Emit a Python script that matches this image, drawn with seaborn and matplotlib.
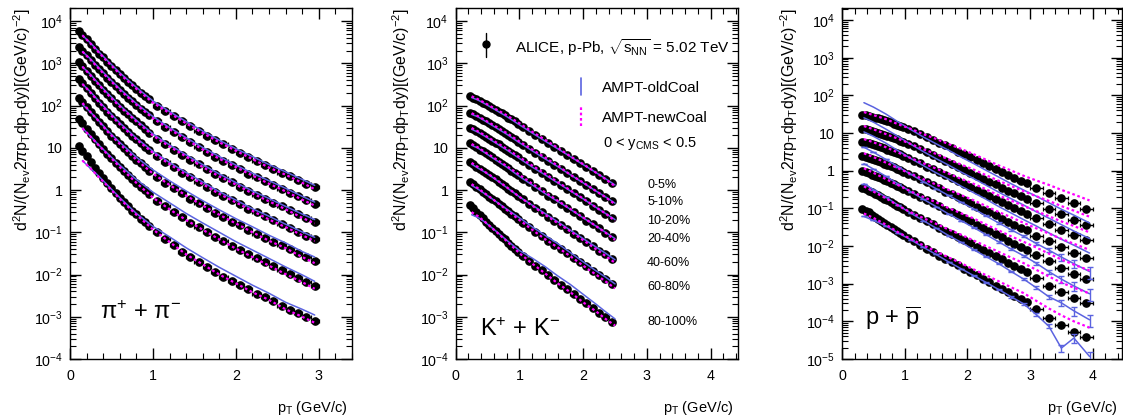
import numpy as np
import pandas as pd
import matplotlib
matplotlib.use("Agg")
import matplotlib.pyplot as plt
import seaborn as sns
from matplotlib.ticker import (LogLocator, MultipleLocator, NullFormatter,
                               FuncFormatter)

# ----------------------------------------------------------------- data
centralities = ["0-5%", "5-10%", "10-20%", "20-40%", "40-60%", "60-80%", "80-100%"]

# ---- pions
pion_pt = [0.11, 0.15, 0.20, 0.25, 0.30, 0.35, 0.40, 0.45, 0.50, 0.55, 0.60, 0.65,
           0.70, 0.75, 0.80, 0.85, 0.90, 0.95, 1.05, 1.15, 1.25, 1.35, 1.45, 1.55,
           1.65, 1.75, 1.85, 1.95, 2.05, 2.15, 2.25, 2.35, 2.45, 2.55, 2.65, 2.75,
           2.85, 2.95]
pion_halfbin = [0.01] + [0.025] * 17 + [0.05] * 20
pion_0_5 = [5900, 4800, 3700, 2900, 2200, 1700, 1400, 1100, 870, 690, 560, 460, 370, 300,
            250, 200, 170, 140, 100, 74, 56, 43, 32, 25, 19.5, 15.1, 12.0, 9.5, 7.6, 6.0,
            4.9, 4.0, 3.2, 2.6, 2.1, 1.74, 1.41, 1.15]
pion_5_10 = [2450, 2000, 1550, 1200, 930, 720, 580, 460, 360, 290, 230, 190, 155, 126, 105,
             85, 71, 59, 42, 31, 23.4, 17.8, 13.5, 10.2, 7.9, 6.2, 4.9, 3.9, 3.1, 2.45, 2.0,
             1.62, 1.32, 1.07, 0.87, 0.71, 0.58, 0.47]
pion_10_20 = [1070, 870, 660, 510, 390, 300, 240, 186, 148, 117, 95, 76, 62, 50, 42, 34, 28,
              23, 16.2, 12.0, 9.1, 6.9, 5.2, 4.1, 3.1, 2.4, 1.9, 1.51, 1.20, 0.95, 0.78,
              0.63, 0.50, 0.41, 0.33, 0.27, 0.22, 0.178]
pion_20_40 = [417, 339, 257, 200, 151, 117, 91, 72, 58, 45, 36, 29.5, 24, 19.1, 15.8, 12.9,
              10.7, 8.9, 6.3, 4.6, 3.5, 2.6, 2.0, 1.55, 1.20, 0.91, 0.72, 0.58, 0.46, 0.36,
              0.295, 0.24, 0.195, 0.155, 0.126, 0.102, 0.083, 0.068]
pion_40_60 = [151, 120, 91, 69, 54, 41, 32, 24.5, 19.5, 15.1, 12.3, 9.8, 7.9, 6.3, 5.2, 4.3,
              3.5, 2.9, 2.0, 1.48, 1.12, 0.85, 0.63, 0.49, 0.38, 0.29, 0.23, 0.18, 0.145,
              0.115, 0.091, 0.074, 0.060, 0.049, 0.040, 0.032, 0.026, 0.021]
pion_60_80 = [48, 38, 28, 21.4, 16.2, 12.0, 9.3, 7.2, 5.6, 4.4, 3.5, 2.8, 2.24, 1.78, 1.48,
              1.17, 0.98, 0.79, 0.56, 0.41, 0.30, 0.23, 0.17, 0.132, 0.102, 0.078, 0.062,
              0.048, 0.038, 0.030, 0.024, 0.0195, 0.0158, 0.0126, 0.0102, 0.0083, 0.0066,
              0.0054]
pion_80_100 = [11.2, 8.5, 6.3, 4.6, 3.4, 2.5, 1.9, 1.45, 1.10, 0.85, 0.66, 0.52, 0.42, 0.32,
               0.27, 0.21, 0.174, 0.141, 0.100, 0.071, 0.050, 0.035, 0.026, 0.020, 0.015,
               0.0115, 0.0089, 0.0071, 0.0056, 0.0045, 0.0035, 0.0029, 0.0023, 0.0018,
               0.00148, 0.0012, 0.0010, 0.00081]

pion_model_pt = [0.15, 0.25, 0.35, 0.45, 0.6, 0.8, 1.0, 1.2, 1.4, 1.6, 1.8, 2.0, 2.2, 2.4,
                 2.6, 2.8, 2.95]
pion_old_0_5 = [4600, 3000, 1860, 1170, 600, 270, 129, 72, 42, 25, 15.1, 9.5, 6.2, 4.0, 2.7, 1.78, 1.29]
pion_old_5_10 = [1900, 1260, 780, 490, 250, 112, 55, 30, 17.4, 10.2, 6.2, 3.9, 2.5, 1.66, 1.10, 0.71, 0.52]
pion_old_10_20 = [830, 540, 320, 200, 102, 45, 21.4, 11.7, 6.8, 4.0, 2.4, 1.51, 0.95, 0.63, 0.41, 0.27, 0.20]
pion_old_20_40 = [324, 209, 126, 78, 39, 17.0, 8.3, 4.5, 2.6, 1.55, 0.91, 0.58, 0.36, 0.24, 0.155, 0.102, 0.076]
pion_old_40_60 = [107, 69, 43, 26, 13.5, 6.0, 3.0, 1.66, 0.95, 0.56, 0.34, 0.21, 0.135, 0.085, 0.056, 0.035, 0.026]
pion_old_60_80 = [29, 18.6, 11.5, 7.4, 3.9, 1.78, 0.89, 0.50, 0.28, 0.166, 0.100, 0.060, 0.038, 0.024, 0.0151, 0.0098, 0.0069]
pion_old_80_100 = [5.0, 3.2, 2.1, 1.32, 0.66, 0.28, 0.138, 0.078, 0.043, 0.025, 0.0148, 0.0091, 0.0056, 0.0036, 0.0022, 0.0015, 0.0011]
pion_new_0_5 = [4600, 2900, 1780, 1100, 560, 250, 117, 66, 38, 22.4, 13.5, 8.5, 5.4, 3.4, 2.3, 1.48, 1.05]
pion_new_5_10 = [1900, 1200, 740, 460, 234, 105, 50, 27.5, 15.8, 9.1, 5.5, 3.5, 2.2, 1.41, 0.93, 0.59, 0.43]
pion_new_10_20 = [830, 510, 310, 186, 95, 42, 19.5, 10.7, 6.2, 3.5, 2.1, 1.35, 0.83, 0.54, 0.35, 0.22, 0.162]
pion_new_20_40 = [324, 200, 120, 72, 36, 15.8, 7.6, 4.1, 2.3, 1.38, 0.81, 0.51, 0.32, 0.20, 0.132, 0.085, 0.062]
pion_new_40_60 = [115, 69, 42, 24.5, 12.3, 5.2, 2.45, 1.32, 0.74, 0.43, 0.26, 0.162, 0.100, 0.063, 0.042, 0.026, 0.0186]
pion_new_60_80 = [29, 18.2, 11.2, 7.1, 3.5, 1.48, 0.66, 0.35, 0.195, 0.115, 0.068, 0.041, 0.026, 0.0162, 0.0102, 0.0066, 0.0046]
pion_new_80_100 = [5.0, 3.2, 2.0, 1.26, 0.62, 0.26, 0.117, 0.059, 0.030, 0.0174, 0.0100, 0.0062, 0.0038, 0.0025, 0.0015, 0.0010, 0.00072]

# ---- kaons
kaon_pt = [0.225, 0.275, 0.325, 0.375, 0.425, 0.475, 0.525, 0.575, 0.625, 0.675, 0.725,
           0.775, 0.825, 0.875, 0.925, 0.975, 1.05, 1.15, 1.25, 1.35, 1.45, 1.55, 1.65,
           1.75, 1.85, 1.95, 2.05, 2.15, 2.25, 2.35, 2.45]
kaon_halfbin = [0.025] * 16 + [0.05] * 15
kaon_0_5 = [170, 155, 141, 129, 117, 107, 98, 89, 79, 72, 65, 59, 52, 47, 42, 37, 31, 25, 20,
            16.2, 12.9, 10.5, 8.3, 6.8, 5.4, 4.4, 3.5, 2.8, 2.24, 1.82, 1.45]
kaon_5_10 = [68, 62, 56, 51, 46, 42, 38, 35, 31, 28, 25, 22.4, 20, 17.8, 15.8, 14.1, 11.7, 9.5,
             7.6, 6.2, 4.9, 4.0, 3.2, 2.5, 2.0, 1.62, 1.29, 1.05, 0.83, 0.68, 0.54]
kaon_10_20 = [30, 27.5, 24.5, 22.4, 20, 18.2, 16.6, 14.8, 13.2, 12.0, 10.7, 9.5, 8.5, 7.6, 6.8,
              6.0, 4.9, 4.0, 3.2, 2.6, 2.0, 1.62, 1.29, 1.05, 0.83, 0.68, 0.54, 0.43, 0.34,
              0.275, 0.22]
kaon_20_40 = [12.9, 11.5, 10.2, 9.1, 8.3, 7.4, 6.6, 5.9, 5.2, 4.7, 4.2, 3.7, 3.3, 2.9, 2.6,
              2.3, 1.86, 1.51, 1.17, 0.95, 0.74, 0.60, 0.47, 0.38, 0.30, 0.24, 0.19, 0.155,
              0.123, 0.098, 0.078]
kaon_40_60 = [4.7, 4.2, 3.6, 3.2, 2.9, 2.6, 2.24, 2.0, 1.78, 1.58, 1.38, 1.23, 1.07, 0.95,
              0.83, 0.72, 0.60, 0.48, 0.37, 0.30, 0.234, 0.186, 0.148, 0.117, 0.093, 0.074,
              0.059, 0.047, 0.037, 0.030, 0.0234]
kaon_60_80 = [1.58, 1.38, 1.20, 1.05, 0.91, 0.79, 0.69, 0.62, 0.54, 0.47, 0.41, 0.36, 0.32,
              0.275, 0.24, 0.21, 0.17, 0.132, 0.102, 0.081, 0.063, 0.051, 0.040, 0.032, 0.025,
              0.0195, 0.0155, 0.0123, 0.0095, 0.0078, 0.006]
kaon_80_100 = [0.45, 0.37, 0.31, 0.25, 0.214, 0.178, 0.151, 0.129, 0.107, 0.091, 0.078,
               0.068, 0.056, 0.048, 0.041, 0.035, 0.028, 0.0214, 0.0162, 0.0126, 0.0095,
               0.0074, 0.0056, 0.0045, 0.0034, 0.0027, 0.0021, 0.00162, 0.00126, 0.00098,
               0.00076]

kaon_model_pt = [0.25, 0.35, 0.45, 0.6, 0.8, 1.0, 1.2, 1.4, 1.6, 1.8, 2.0, 2.2, 2.35, 2.5]
kaon_old_0_5 = [155, 135, 112, 83, 55, 35, 22.4, 14.5, 9.5, 6.2, 4.0, 2.6, 1.86, 1.32]
kaon_old_5_10 = [62, 54, 44, 32, 21, 13.2, 8.5, 5.5, 3.6, 2.3, 1.48, 0.95, 0.69, 0.49]
kaon_old_10_20 = [27.5, 23.4, 19.1, 13.8, 8.9, 5.6, 3.5, 2.3, 1.48, 0.95, 0.62, 0.39, 0.28, 0.20]
kaon_old_20_40 = [11.5, 9.8, 7.8, 5.5, 3.5, 2.1, 1.32, 0.83, 0.54, 0.35, 0.22, 0.141, 0.100, 0.071]
kaon_old_40_60 = [4.1, 3.3, 2.7, 1.9, 1.15, 0.69, 0.44, 0.28, 0.178, 0.112, 0.071, 0.045, 0.032, 0.0224]
kaon_old_60_80 = [1.29, 1.05, 0.83, 0.58, 0.355, 0.22, 0.135, 0.085, 0.054, 0.033, 0.020, 0.0123, 0.0087, 0.006]
kaon_old_80_100 = [0.26, 0.224, 0.178, 0.117, 0.065, 0.037, 0.0245, 0.0155, 0.0093, 0.0058, 0.0034, 0.0020, 0.00132, 0.00089]
kaon_new_0_5 = [166, 141, 117, 87, 59, 38, 24, 15.5, 10.0, 6.3, 4.1, 2.6, 1.82, 1.23]
kaon_new_5_10 = [66, 56, 46, 34, 22.4, 14.1, 9.1, 5.9, 3.8, 2.3, 1.51, 0.95, 0.68, 0.46]
kaon_new_10_20 = [29.5, 24.5, 20, 14.5, 9.5, 6.0, 3.8, 2.45, 1.55, 0.98, 0.63, 0.39, 0.28, 0.186]
kaon_new_20_40 = [12.3, 10.2, 8.1, 5.8, 3.7, 2.3, 1.41, 0.89, 0.56, 0.355, 0.224, 0.141, 0.098, 0.066]
kaon_new_40_60 = [4.4, 3.5, 2.75, 1.95, 1.17, 0.69, 0.43, 0.26, 0.166, 0.105, 0.065, 0.040, 0.0275, 0.019]
kaon_new_60_80 = [1.38, 1.10, 0.85, 0.58, 0.34, 0.195, 0.115, 0.069, 0.044, 0.027, 0.0162, 0.0100, 0.0069, 0.0047]
kaon_new_80_100 = [0.30, 0.24, 0.182, 0.115, 0.062, 0.032, 0.0182, 0.0107, 0.0062, 0.0038, 0.0022, 0.00135, 0.00089, 0.00062]

# ---- protons
proton_pt = [0.325, 0.375, 0.425, 0.475, 0.525, 0.575, 0.625, 0.675, 0.725, 0.775, 0.825,
             0.875, 0.925, 0.975, 1.05, 1.15, 1.25, 1.35, 1.45, 1.55, 1.65, 1.75, 1.85,
             1.95, 2.05, 2.15, 2.25, 2.35, 2.45, 2.55, 2.65, 2.75, 2.85, 2.95, 3.1, 3.3,
             3.5, 3.7, 3.9]
proton_halfbin = [0.025] * 14 + [0.05] * 20 + [0.1] * 5
proton_0_5 = [30, 29.5, 28.2, 26.9, 25.7, 24.5, 22.9, 21.9, 20.4, 19.1, 17.8, 16.6, 15.5,
              14.5, 12.9, 11.0, 9.3, 7.8, 6.6, 5.6, 4.7, 3.9, 3.2, 2.75, 2.3, 1.9, 1.58,
              1.32, 1.10, 0.91, 0.76, 0.65, 0.54, 0.46, 0.355, 0.257, 0.186, 0.135, 0.098]
proton_5_10 = [12.9, 12.6, 11.7, 11.2, 10.7, 10.2, 9.5, 8.9, 8.3, 7.8, 7.2, 6.8, 6.3, 5.9,
               5.1, 4.4, 3.7, 3.1, 2.6, 2.24, 1.86, 1.55, 1.26, 1.07, 0.89, 0.74, 0.62, 0.51,
               0.43, 0.355, 0.295, 0.25, 0.21, 0.178, 0.135, 0.098, 0.069, 0.050, 0.036]
proton_10_20 = [5.9, 5.6, 5.4, 5.0, 4.8, 4.5, 4.2, 4.0, 3.6, 3.4, 3.2, 2.9, 2.7, 2.5, 2.2,
                1.86, 1.58, 1.29, 1.10, 0.93, 0.78, 0.63, 0.52, 0.45, 0.37, 0.31, 0.257,
                0.214, 0.174, 0.145, 0.12, 0.102, 0.085, 0.071, 0.055, 0.038, 0.027, 0.0195,
                0.0141]
proton_20_40 = [2.45, 2.3, 2.2, 2.0, 1.95, 1.82, 1.66, 1.55, 1.45, 1.32, 1.23, 1.12, 1.02,
                0.95, 0.83, 0.71, 0.59, 0.49, 0.41, 0.35, 0.28, 0.234, 0.195, 0.166, 0.138,
                0.112, 0.093, 0.078, 0.065, 0.052, 0.044, 0.037, 0.030, 0.026, 0.019, 0.0132,
                0.0093, 0.0066, 0.0048]
proton_40_60 = [1.0, 0.93, 0.87, 0.79, 0.74, 0.68, 0.63, 0.575, 0.525, 0.48, 0.44, 0.40,
                0.36, 0.33, 0.29, 0.24, 0.20, 0.166, 0.138, 0.115, 0.093, 0.078, 0.065,
                0.054, 0.045, 0.036, 0.030, 0.025, 0.0204, 0.017, 0.0138, 0.0115, 0.0095,
                0.0079, 0.0059, 0.0039, 0.0026, 0.00186, 0.00135]
proton_60_80 = [0.355, 0.33, 0.295, 0.27, 0.245, 0.22, 0.20, 0.182, 0.162, 0.145, 0.132,
                0.117, 0.107, 0.098, 0.081, 0.068, 0.055, 0.046, 0.038, 0.031, 0.025, 0.021,
                0.0174, 0.0145, 0.0117, 0.0095, 0.0079, 0.0065, 0.0054, 0.0044, 0.0035,
                0.0030, 0.0024, 0.0020, 0.00141, 0.00089, 0.00059, 0.00041, 0.0003]
proton_80_100 = [0.098, 0.087, 0.078, 0.068, 0.060, 0.052, 0.047, 0.041, 0.036, 0.032,
                 0.028, 0.0245, 0.022, 0.0195, 0.0162, 0.0132, 0.0105, 0.0085, 0.0069,
                 0.0056, 0.0046, 0.0037, 0.0031, 0.0025, 0.002, 0.00166, 0.00135, 0.0011,
                 0.00089, 0.00072, 0.00059, 0.00048, 0.00039, 0.00032, 0.00021, 0.000126,
                 7.9e-5, 5.2e-5, 3.8e-5]

proton_model_pt = [0.35, 0.5, 0.7, 0.9, 1.1, 1.3, 1.5, 1.7, 1.9, 2.1, 2.3, 2.5, 2.7, 2.9,
                   3.1, 3.3, 3.5, 3.7, 3.95]
proton_old_0_5 = [64, 49, 32, 19.5, 12.3, 7.8, 5.2, 3.5, 2.3, 1.55, 1.02, 0.68, 0.45, 0.305, 0.21, 0.141, 0.095, 0.066, 0.041]
proton_old_5_10 = [25.4, 19.5, 12.7, 8.0, 5.0, 3.2, 2.1, 1.41, 0.92, 0.62, 0.41, 0.27, 0.18, 0.122, 0.081, 0.055, 0.037, 0.025, 0.0158]
proton_old_10_20 = [10.7, 8.2, 5.4, 3.35, 2.1, 1.36, 0.88, 0.60, 0.39, 0.26, 0.174, 0.112, 0.075, 0.050, 0.034, 0.0224, 0.0151, 0.0105, 0.0065]
proton_old_20_40 = [4.2, 3.1, 2.0, 1.26, 0.80, 0.51, 0.335, 0.22, 0.146, 0.097, 0.063, 0.041, 0.027, 0.018, 0.0117, 0.0078, 0.0051, 0.0034, 0.0021]
proton_old_40_60 = [1.53, 1.11, 0.71, 0.44, 0.275, 0.174, 0.112, 0.071, 0.047, 0.031, 0.020, 0.0129, 0.0083, 0.0055, 0.0035, 0.0021, 0.00132, 0.00087, 0.00054]
proton_old_60_80 = [0.45, 0.316, 0.20, 0.12, 0.074, 0.047, 0.030, 0.019, 0.0126, 0.008, 0.0052, 0.0034, 0.0021, 0.00132, 0.00078, 0.00045, 0.00031, 0.00019, 0.00011]
proton_old_80_100 = [0.061, 0.048, 0.034, 0.022, 0.0146, 0.0092, 0.006, 0.0038, 0.0025, 0.00164, 0.00108, 0.0007, 0.00045, 0.00029, 0.000151, 7.4e-5, 1.95e-5, 3.6e-5, 1.17e-5]
proton_old_relerr = [0, 0, 0, 0, 0, 0, 0, 0, 0, 0.02, 0.03, 0.04, 0.05, 0.06, 0.08, 0.12, 0.2, 0.25, 0.35]
proton_new_0_5 = [36, 30, 23.4, 17.0, 12.9, 9.3, 7.0, 5.1, 3.8, 2.75, 1.95, 1.38, 1.01, 0.73, 0.55, 0.42, 0.31, 0.234, 0.162]
proton_new_5_10 = [15.3, 12.6, 9.4, 7.0, 5.1, 3.7, 2.8, 2.0, 1.46, 1.07, 0.76, 0.54, 0.39, 0.285, 0.21, 0.158, 0.115, 0.087, 0.060]
proton_new_10_20 = [6.9, 5.7, 4.2, 3.0, 2.15, 1.57, 1.14, 0.84, 0.61, 0.45, 0.32, 0.22, 0.16, 0.115, 0.085, 0.062, 0.045, 0.034, 0.023]
proton_new_20_40 = [2.9, 2.3, 1.64, 1.15, 0.82, 0.59, 0.43, 0.31, 0.226, 0.164, 0.115, 0.080, 0.058, 0.041, 0.0295, 0.0214, 0.0155, 0.0115, 0.0079]
proton_new_40_60 = [1.16, 0.88, 0.60, 0.41, 0.28, 0.20, 0.145, 0.102, 0.074, 0.054, 0.037, 0.026, 0.018, 0.0129, 0.0091, 0.0063, 0.0044, 0.0032, 0.00224]
proton_new_60_80 = [0.385, 0.28, 0.186, 0.117, 0.078, 0.055, 0.039, 0.0275, 0.020, 0.014, 0.0099, 0.007, 0.0049, 0.0035, 0.00234, 0.00155, 0.00107, 0.00078, 0.00055]
proton_new_80_100 = [0.073, 0.056, 0.037, 0.023, 0.0153, 0.0104, 0.0072, 0.005, 0.0035, 0.0024, 0.00168, 0.00116, 0.0008, 0.00056, 0.00035, 0.00022, 0.000145, 0.0001, 6.8e-5]

# ----------------------------------------------------------------- style
BLUE = "#5b63e0"
MAGENTA = "#ff00ff"

sns.set_theme(style="ticks", rc={
    "axes.edgecolor": "black", "xtick.color": "black", "ytick.color": "black",
    "text.color": "black", "axes.labelcolor": "black",
})
plt.rcParams["font.family"] = ["Liberation Sans", "DejaVu Sans"]
plt.rcParams["mathtext.fontset"] = "custom"
plt.rcParams["mathtext.rm"] = "Liberation Sans"
plt.rcParams["mathtext.it"] = "Liberation Sans:italic"
plt.rcParams["mathtext.bf"] = "Liberation Sans:bold"
plt.rcParams["mathtext.sf"] = "Liberation Sans"

W, H = 1123, 419
fig = plt.figure(figsize=(W / 100, H / 100), dpi=100)


def px_axes(left, right, top, bottom):
    return fig.add_axes([left / W, 1 - bottom / H, (right - left) / W, (bottom - top) / H])


def log_label(v, pos):
    e = int(round(np.log10(v)))
    if e == 0:
        return "1"
    if e == 1:
        return "10"
    return r"$10^{%d}$" % e


YLABEL = (r"d$^{2}$N/(N$_{\mathrm{ev}}$2$\pi$p$_{\mathrm{T}}$dp$_{\mathrm{T}}$dy)"
          r"[(GeV/c)$^{-2}$]")
XLABEL = r"p$_{\mathrm{T}}$ (GeV/c)"


def style_axes(ax, xmax, ymin, ymax, ylab_x):
    ax.set_yscale("log")
    ax.set_xlim(0, xmax)
    ax.set_ylim(ymin, ymax)
    ax.xaxis.set_major_locator(MultipleLocator(1))
    ax.xaxis.set_minor_locator(MultipleLocator(0.2))
    ax.yaxis.set_major_locator(LogLocator(base=10, numticks=30))
    ax.yaxis.set_minor_locator(LogLocator(base=10, subs=np.arange(2, 10), numticks=300))
    ax.yaxis.set_minor_formatter(NullFormatter())
    ax.yaxis.set_major_formatter(FuncFormatter(log_label))
    ax.tick_params(which="both", direction="in", top=True, right=True, labelsize=10.3)
    ax.tick_params(which="major", length=8, width=1.0)
    ax.tick_params(which="minor", length=4, width=0.8)
    ax.tick_params(axis="x", pad=7)
    ax.tick_params(axis="y", pad=5)
    for s in ax.spines.values():
        s.set_linewidth(1.0)
        s.set_color("black")
    ax.set_ylabel(YLABEL, fontsize=11.5, loc="top")
    ax.yaxis.set_label_coords(ylab_x, 1.0)
    ax.set_xlabel(XLABEL, fontsize=10.5, loc="right")
    ax.xaxis.set_label_coords(0.985, -0.115)


def draw_panel(ax, pt, halfbin, data, mpt, old, new, old_relerr=None):
    for y in data:
        ax.errorbar(pt, y, xerr=halfbin, fmt="o", ms=5.2, color="black", mec="black",
                    elinewidth=1.0, capsize=1.2, capthick=0.9, zorder=3)
    for i, y in enumerate(old):
        df = pd.DataFrame({"pt": mpt, "val": y})
        sns.lineplot(data=df, x="pt", y="val", ax=ax, color=BLUE, lw=1.1,
                     estimator=None, sort=False, zorder=4)
        if old_relerr is not None and i >= 3:
            yerr = np.array(y) * np.array(old_relerr)
            ax.errorbar(mpt, y, yerr=yerr, fmt="none", ecolor=BLUE, elinewidth=1.0,
                        capsize=2.0, capthick=1.0, zorder=4)
    for y in new:
        df = pd.DataFrame({"pt": mpt, "val": y})
        sns.lineplot(data=df, x="pt", y="val", ax=ax, color=MAGENTA, lw=1.6,
                     linestyle=(0, (1.2, 1.2)), estimator=None, sort=False, zorder=5)


# ---------------------------------------------------------------- panels
ax1 = px_axes(70, 352, 8, 359)
ax2 = px_axes(455.7, 738, 8, 359)
ax3 = px_axes(842, 1121.5, 8, 359)

draw_panel(ax1, pion_pt, pion_halfbin,
           [pion_0_5, pion_5_10, pion_10_20, pion_20_40, pion_40_60, pion_60_80, pion_80_100],
           pion_model_pt,
           [pion_old_0_5, pion_old_5_10, pion_old_10_20, pion_old_20_40, pion_old_40_60,
            pion_old_60_80, pion_old_80_100],
           [pion_new_0_5, pion_new_5_10, pion_new_10_20, pion_new_20_40, pion_new_40_60,
            pion_new_60_80, pion_new_80_100])
draw_panel(ax2, kaon_pt, kaon_halfbin,
           [kaon_0_5, kaon_5_10, kaon_10_20, kaon_20_40, kaon_40_60, kaon_60_80, kaon_80_100],
           kaon_model_pt,
           [kaon_old_0_5, kaon_old_5_10, kaon_old_10_20, kaon_old_20_40, kaon_old_40_60,
            kaon_old_60_80, kaon_old_80_100],
           [kaon_new_0_5, kaon_new_5_10, kaon_new_10_20, kaon_new_20_40, kaon_new_40_60,
            kaon_new_60_80, kaon_new_80_100])
draw_panel(ax3, proton_pt, proton_halfbin,
           [proton_0_5, proton_5_10, proton_10_20, proton_20_40, proton_40_60, proton_60_80,
            proton_80_100],
           proton_model_pt,
           [proton_old_0_5, proton_old_5_10, proton_old_10_20, proton_old_20_40,
            proton_old_40_60, proton_old_60_80, proton_old_80_100],
           [proton_new_0_5, proton_new_5_10, proton_new_10_20, proton_new_20_40,
            proton_new_40_60, proton_new_60_80, proton_new_80_100],
           old_relerr=proton_old_relerr)

style_axes(ax1, 3.4, 1e-4, 10 ** 4.31, -0.131)
style_axes(ax2, 4.43, 1e-4, 10 ** 4.31, -0.155)
style_axes(ax3, 4.46, 1e-5, 10 ** 4.32, -0.150)

# particle labels
ax1.text(0.106, 0.131, r"$\mathrm{\pi}^{+}$ + $\mathrm{\pi}^{-}$", transform=ax1.transAxes,
         fontsize=17, va="center", ha="left")
ax2.text(0.086, 0.083, r"K$^{+}$ + K$^{-}$", transform=ax2.transAxes,
         fontsize=17, va="center", ha="left")
ax3.text(0.082, 0.117, r"p + $\overline{\mathrm{p}}$", transform=ax3.transAxes,
         fontsize=17, va="center", ha="left")

# legend (panel 2)
T = ax2.transAxes
ax2.plot([0.107, 0.107], [0.860, 0.929], color="black", lw=1.0, transform=T)
ax2.plot([0.107], [0.897], "o", color="black", ms=5, transform=T)
ax2.text(0.210, 0.886, r"ALICE, p-Pb, $\sqrt{\mathrm{s}_{\mathrm{NN}}}$ = 5.02 TeV",
         transform=T, fontsize=11, va="center", ha="left")
ax2.plot([0.443, 0.443], [0.752, 0.801], color=BLUE, lw=1.2, transform=T)
ax2.text(0.517, 0.772, "AMPT-oldCoal", transform=T, fontsize=11, va="center", ha="left")
ax2.plot([0.443, 0.443], [0.664, 0.718], color=MAGENTA, lw=1.6,
         linestyle=(0, (1.2, 1.2)), transform=T)
ax2.text(0.517, 0.687, "AMPT-newCoal", transform=T, fontsize=11, va="center", ha="left")
ax2.text(0.522, 0.613, r"0 < y$_{\mathrm{CMS}}$ < 0.5", transform=T, fontsize=10.5,
         va="center", ha="left")

cent_y = [0.496, 0.447, 0.393, 0.342, 0.274, 0.205, 0.105]
for lab, yy in zip(centralities, cent_y):
    ax2.text(0.678, yy, lab, transform=T, fontsize=9, va="center", ha="left")

fig.savefig("out.png", dpi=100)
